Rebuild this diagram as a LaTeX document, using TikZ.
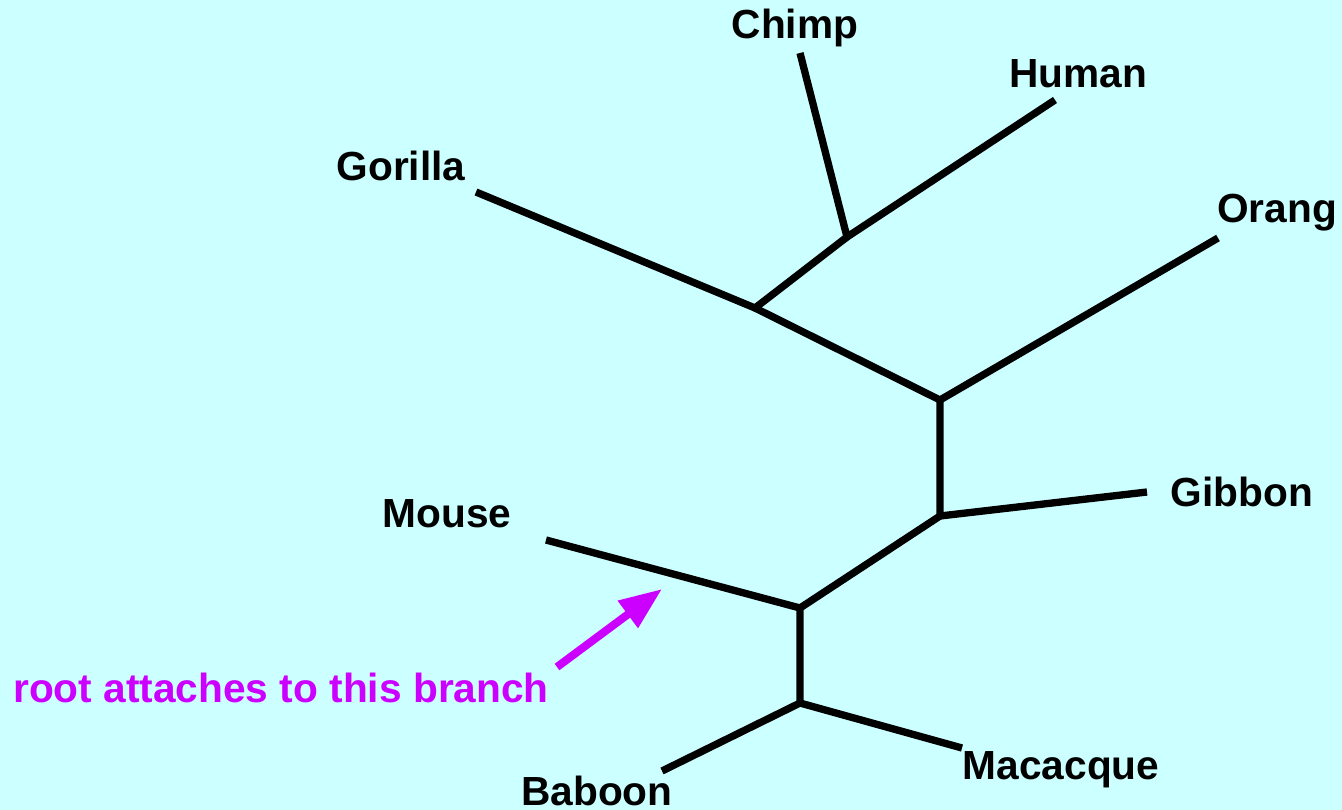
\documentclass[tikz,border=0pt]{standalone}
\usepackage{fontspec}
\setmainfont{Liberation Sans}
\usetikzlibrary{arrows.meta}
\definecolor{bgcyan}{HTML}{CCFFFF}
\definecolor{rootpurple}{HTML}{CC00FF}
\tikzset{
  branch/.style={line width=5.5pt},
  taxon/.style={font=\fontsize{30.5}{34}\selectfont\bfseries},
}
\begin{document}
\begin{tikzpicture}[x=0.75pt,y=-0.75pt]
    \fill[bgcyan] (0,0) rectangle (1342,810);
    \useasboundingbox (0,0) rectangle (1342,810);

    % leaves and inner junctions
    \foreach \n/\p in {chimp/{800,53}, human/{1055,100}, gorilla/{476,192},
        orang/{1218,238}, gibbon/{1147,492}, mouse/{546,540},
        baboon/{662,771}, macacque/{962,748},
        jch/{847,237}, jg/{755,308}, jo/{940,400}, jgb/{940,516},
        jm/{800,608}, jb/{800,703}}{
      \coordinate (\n) at (\p);
    }

    \draw[branch] (chimp) -- (jch) -- (human);
    \draw[branch] (jch) -- (jg) -- (gorilla);
    \draw[branch] (jg) -- (jo) -- (orang);
    \draw[branch] (jo) -- (jgb) -- (gibbon);
    \draw[branch] (jgb) -- (jm) -- (mouse);
    \draw[branch] (jm) -- (jb) -- (baboon);
    \draw[branch] (jb) -- (macacque);

    \node[taxon] (lchimp) at (795,28) {Chimp};
    \node[taxon] (lhuman) at (1078,74) {Human};
    \node[taxon] (lgorilla) at (401,166) {Gorilla};
    \node[taxon] (lorang) at (1277,213) {Orang};
    \node[taxon] (lgibbon) at (1242,492) {Gibbon};
    \node[taxon] (lmouse) at (447,514) {Mouse};
    \node[taxon] (lbaboon) at (597,791) {Baboon};
    \node[taxon] (lmacacque) at (1061,770) {Macacque};

    \node[taxon,text=rootpurple] (note) at (281,688) {root attaches to this branch};
    \coordinate (tail) at (557,667);
    \coordinate (tip) at (662,589);
    \draw[rootpurple,line width=6pt,-{Triangle[length=32pt,width=24pt]}] (tail) -- (tip);
\end{tikzpicture}
\end{document}
